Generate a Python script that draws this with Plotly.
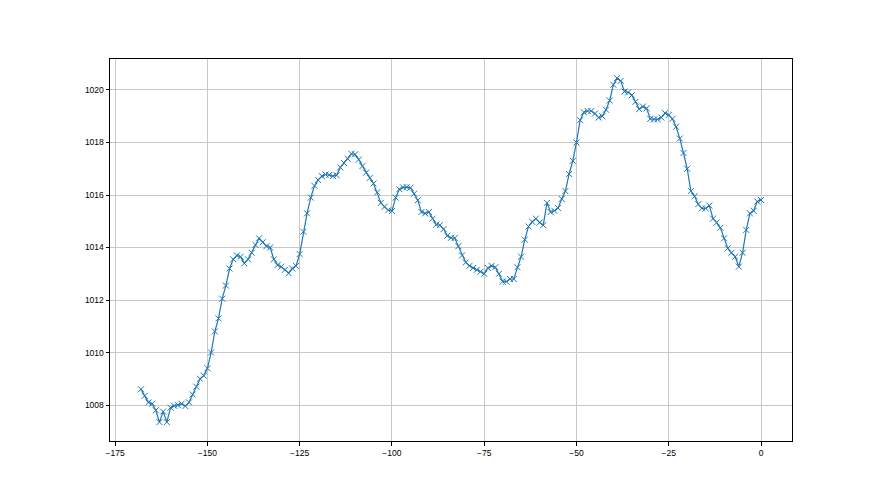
import plotly.graph_objects as go

hours = list(range(-168, 1))
pressure = [
    1008.6, 1008.35, 1008.1, 1008.05, 1007.8, 1007.35, 1007.75, 1007.35, 1007.9, 1007.97,
    1008.0, 1008.05, 1007.96, 1008.1, 1008.4, 1008.7, 1009.0, 1009.12, 1009.4, 1010.0,
    1010.8, 1011.3, 1012.05, 1012.55, 1013.2, 1013.55, 1013.7, 1013.65, 1013.4, 1013.55,
    1013.8, 1014.1, 1014.35, 1014.2, 1014.05, 1014.0, 1013.55, 1013.33, 1013.27, 1013.15,
    1013.02, 1013.2, 1013.3, 1013.75, 1014.6, 1015.3, 1015.9, 1016.35, 1016.57, 1016.72,
    1016.78, 1016.76, 1016.72, 1016.75, 1017.05, 1017.22, 1017.38, 1017.57, 1017.55, 1017.35,
    1017.1, 1016.85, 1016.65, 1016.44, 1016.1, 1015.7, 1015.55, 1015.42, 1015.39, 1015.9,
    1016.22, 1016.29, 1016.3, 1016.28, 1016.05, 1015.8, 1015.35, 1015.3, 1015.35, 1015.1,
    1014.87, 1014.85, 1014.7, 1014.45, 1014.37, 1014.36, 1014.05, 1013.7, 1013.43, 1013.3,
    1013.22, 1013.15, 1013.08, 1013.0, 1013.22, 1013.3, 1013.25, 1013.0, 1012.7, 1012.7,
    1012.8, 1012.8, 1013.25, 1013.65, 1014.3, 1014.8, 1014.98, 1015.1, 1014.95, 1014.85,
    1015.7, 1015.35, 1015.4, 1015.5, 1015.85, 1016.15, 1016.8, 1017.3, 1018.0, 1018.85,
    1019.15, 1019.2, 1019.2, 1019.1, 1018.95, 1019.0, 1019.25, 1019.6, 1020.2, 1020.45,
    1020.35, 1019.94, 1019.91, 1019.8, 1019.55, 1019.27, 1019.37, 1019.3, 1018.9, 1018.88,
    1018.88, 1018.95, 1019.12, 1019.05, 1018.9, 1018.6, 1018.15, 1017.6, 1017.0, 1016.15,
    1015.95, 1015.65, 1015.49, 1015.49, 1015.6, 1015.1, 1014.95, 1014.75, 1014.35, 1013.97,
    1013.8, 1013.65, 1013.27, 1013.8, 1014.67, 1015.3, 1015.4, 1015.75, 1015.81,
]

x_ticks = [-175, -150, -125, -100, -75, -50, -25, 0]
x_tick_text = ["\u2212175", "\u2212150", "\u2212125", "\u2212100", "\u221275", "\u221250", "\u221225", "0"]
y_ticks = [1008, 1010, 1012, 1014, 1016, 1018, 1020]
y_tick_text = [str(v) for v in y_ticks]

fig = go.Figure()
fig.add_trace(go.Scatter(
    x=hours, y=pressure, mode="lines+markers",
    line=dict(color="#1f77b4", width=1.2),
    marker=dict(symbol="x-thin", size=6, color="#1f77b4",
                line=dict(color="#1f77b4", width=1)),
    showlegend=False,
))

axis_common = dict(
    showline=True, linecolor="black", linewidth=1, mirror=True,
    showgrid=True, gridcolor="#c8c8c8", gridwidth=1,
    ticks="outside", ticklen=3.5, tickwidth=1, tickcolor="black",
    zeroline=False,
    tickfont=dict(family="Liberation Sans", size=8.5, color="black"),
)

fig.update_layout(
    width=880, height=495,
    margin=dict(l=102, r=96, t=51, b=62),
    paper_bgcolor="white", plot_bgcolor="white",
    xaxis=dict(range=[-176.4, 8.4], tickvals=x_ticks, ticktext=x_tick_text, **axis_common),
    yaxis=dict(range=[1006.63, 1021.18], tickvals=y_ticks, ticktext=y_tick_text, **axis_common),
)

fig.write_html("out.html")
